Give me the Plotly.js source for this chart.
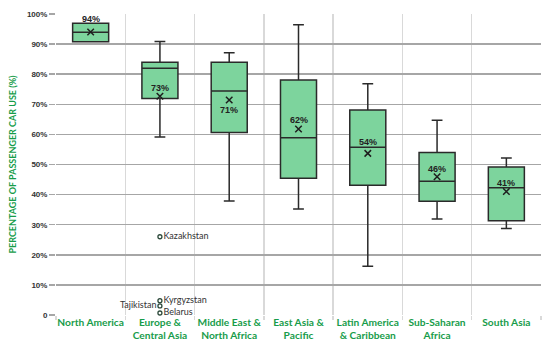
<!DOCTYPE html>
<html>
<head>
<meta charset="utf-8">
<script src="https://cdn.plot.ly/plotly-3.0.1.min.js"></script>
<style>html,body{margin:0;padding:0;background:#fff;}#chart{width:550px;height:349px;}</style>
</head>
<body>
<div id="chart"></div>
<script>
var categories = ["North America", "Europe &<br>Central Asia", "Middle East &<br>North Africa", "East Asia &<br>Pacific", "Latin America<br>& Caribbean", "Sub-Saharan<br>Africa", "South Asia"];
var q1Values = [90.8, 71.9, 60.6, 45.4, 43.1, 37.8, 31.3];
var medianValues = [93.9, 82.0, 74.4, 58.9, 55.7, 44.4, 42.3];
var q3Values = [96.9, 84.0, 84.0, 78.1, 68.1, 54.0, 49.2];
var lowerWhisker = [90.8, 59.1, 37.9, 35.2, 16.2, 31.9, 28.7];
var upperWhisker = [96.9, 90.9, 87.1, 96.4, 76.8, 64.7, 52.2];
var meanValues = [94.0, 72.7, 71.4, 61.8, 53.7, 45.9, 41.0];
var meanLabels = ["94%", "73%", "71%", "62%", "54%", "46%", "41%"];
var outlierCategory = ["Europe &<br>Central Asia", "Europe &<br>Central Asia", "Europe &<br>Central Asia", "Europe &<br>Central Asia"];
var outlierValues = [26.0, 4.75, 3.0, 0.66];
var outlierNames = ["Kazakhstan", "Kyrgyzstan", "Tajikistan", "Belarus"];
var yTickValues = [0, 10, 20, 30, 40, 50, 60, 70, 80, 90, 100];
var yTickLabels = ["0", "10%", "20%", "30%", "40%", "50%", "60%", "70%", "80%", "90%", "100%"];

var green = "#179c4a";
var labelShift = [13, 8, -10, 9, 11, 8, 9];
var outlierPos = ["middle right", "middle right", "middle left", "middle right"];

var traces = [
  {
    type: "box",
    x: categories,
    q1: q1Values,
    median: medianValues,
    q3: q3Values,
    lowerfence: lowerWhisker,
    upperfence: upperWhisker,
    width: 0.52,
    fillcolor: "#7dd49d",
    line: {color: "#2a2a2a", width: 1.5},
    whiskerwidth: 0.3,
    boxpoints: false,
    hoverinfo: "skip",
    showlegend: false
  },
  {
    type: "scatter",
    mode: "markers",
    x: categories,
    y: meanValues,
    marker: {symbol: "x-thin-open", size: 6.5, line: {color: "#1e1e1e", width: 1.5}, color: "#1e1e1e"},
    showlegend: false,
    hoverinfo: "skip"
  },
  {
    type: "scatter",
    mode: "markers+text",
    x: outlierCategory,
    y: outlierValues,
    text: outlierNames,
    textposition: outlierPos,
    textfont: {family: "Lato, 'Open Sans', sans-serif", size: 9, color: "#333"},
    marker: {symbol: "circle-open", size: 4, color: "#2d4a3b", line: {color: "#2d4a3b", width: 1.3}},
    showlegend: false,
    hoverinfo: "skip",
    cliponaxis: false
  }
];

var annotations = categories.map(function (c, i) {
  return {
    x: c, y: meanValues[i], xref: "x", yref: "y",
    text: meanLabels[i], showarrow: false, yshift: labelShift[i],
    font: {family: "'Liberation Sans', Arial, sans-serif", size: 9, color: "#222", weight: "bold"}
  };
});

var layout = {
  width: 550, height: 349,
  margin: {l: 56, r: 9, t: 14, b: 34},
  paper_bgcolor: "#fff", plot_bgcolor: "#fff",
  xaxis: {
    type: "category",
    range: [-0.5, 6.5],
    tickson: "boundaries",
    tickangle: 0,
    automargin: false,
    showgrid: true, gridcolor: "#d9d9d9", gridwidth: 1.3,
    ticks: "outside", ticklen: 4, tickcolor: "#d9d9d9", tickwidth: 1.3,
    zeroline: false, showline: false,
    tickfont: {family: "Lato, 'Open Sans', sans-serif", size: 10.2, color: green, weight: "bold"},
    fixedrange: true
  },
  yaxis: {
    range: [0, 100],
    automargin: false,
    tickvals: yTickValues, ticktext: yTickLabels,
    showgrid: true, gridcolor: "#a6a6a6", gridwidth: 1.5,
    ticks: "outside", ticklen: 6, tickcolor: "#a6a6a6", tickwidth: 1.5,
    zeroline: false, showline: false,
    tickfont: {family: "'Liberation Sans', Arial, sans-serif", size: 8, color: "#333", weight: "bold"},
    title: {text: "PERCENTAGE OF PASSENGER CAR USE (%)", standoff: 8,
            font: {family: "Lato, 'Open Sans', sans-serif", size: 9, color: green, weight: "bold"}},
    fixedrange: true
  },
  annotations: annotations,
  showlegend: false
};

Plotly.newPlot("chart", traces, layout, {displayModeBar: false, staticPlot: true});
</script>
</body>
</html>
